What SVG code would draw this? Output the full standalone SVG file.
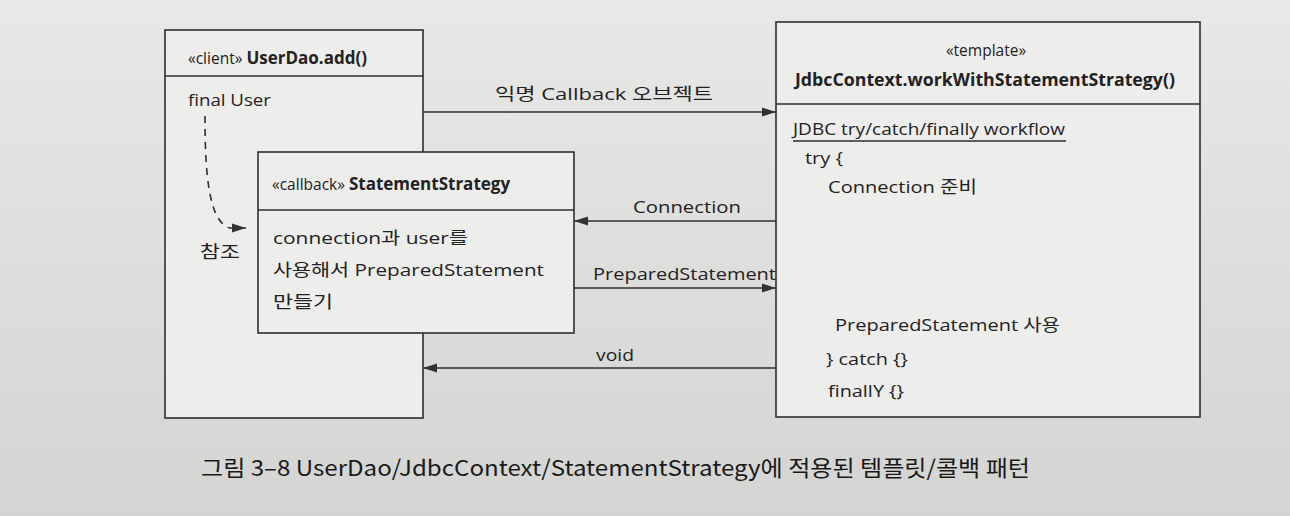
<svg xmlns="http://www.w3.org/2000/svg" width="1290" height="516" viewBox="0 0 1290 516">
<defs>
<linearGradient id="bg" x1="0" y1="0" x2="0" y2="1">
<stop offset="0" stop-color="#e8e8e6"/>
<stop offset="1" stop-color="#d4d4d2"/>
</linearGradient>
<marker id="ah" viewBox="0 0 14 10" refX="14" refY="5" markerWidth="14" markerHeight="10" markerUnits="userSpaceOnUse" orient="auto">
<path d="M0,0.5 L14,5 L0,9.5 Z" fill="#333"/>
</marker>
<style>
.box{fill:#ededeb;stroke:#2e2e2e;stroke-width:1.6}
.ln{stroke:#2e2e2e;stroke-width:1.6;fill:none}
.t{font-family:"Open Sans","Noto Sans","Noto Sans CJK KR",sans-serif;font-size:17px;fill:#222}
.s{font-family:"Open Sans","Noto Sans","Noto Sans CJK KR",sans-serif;font-size:15.5px;fill:#222}
.b{font-weight:bold}
.cap{font-family:"Noto Sans CJK KR","Liberation Sans",sans-serif;font-size:22px;fill:#1a1a1a}
</style>
</defs>
<rect x="0" y="0" width="1290" height="516" fill="url(#bg)"/>

<g id="userdao">
<rect class="box" x="165" y="30" width="258" height="388"/>
<line class="ln" x1="165" y1="76" x2="423" y2="76"/>
<text class="t" x="188" y="64"><tspan class="s">«client» </tspan><tspan class="b">UserDao.add()</tspan></text>
<text class="t" x="188" y="106" textLength="83" lengthAdjust="spacingAndGlyphs">final User</text>
<text class="t" x="200" y="258" textLength="40" lengthAdjust="spacingAndGlyphs">참조</text>
</g>

<g id="template">
<rect class="box" x="776" y="22" width="424" height="395"/>
<line class="ln" x1="776" y1="104" x2="1200" y2="104"/>
<text class="s" x="986" y="56" text-anchor="middle">«template»</text>
<text class="t b" x="795" y="86" textLength="380" lengthAdjust="spacingAndGlyphs">JdbcContext.workWithStatementStrategy()</text>
<text class="t" x="793" y="135" textLength="272" lengthAdjust="spacingAndGlyphs">JDBC try/catch/finally workflow</text>
<line class="ln" x1="793" y1="141" x2="1066" y2="141" stroke-width="1.3"/>
<text class="t" x="805" y="164" textLength="38" lengthAdjust="spacingAndGlyphs">try {</text>
<text class="t" x="828" y="193" textLength="149" lengthAdjust="spacingAndGlyphs">Connection 준비</text>
<text class="t" x="835" y="331" textLength="225" lengthAdjust="spacingAndGlyphs">PreparedStatement 사용</text>
<text class="t" x="826" y="365" textLength="82" lengthAdjust="spacingAndGlyphs">} catch {}</text>
<text class="t" x="828" y="397" textLength="76" lengthAdjust="spacingAndGlyphs">finallY {}</text>
</g>

<g id="callback">
<rect class="box" x="258" y="152" width="316" height="181"/>
<line class="ln" x1="258" y1="210" x2="574" y2="210"/>
<text class="t" x="272" y="190"><tspan class="s">«callback» </tspan><tspan class="b">StatementStrategy</tspan></text>
<text class="t" x="273" y="244" textLength="195" lengthAdjust="spacingAndGlyphs">connection과 user를</text>
<text class="t" x="273" y="276" textLength="271" lengthAdjust="spacingAndGlyphs">사용해서 PreparedStatement</text>
<text class="t" x="273" y="308" textLength="60" lengthAdjust="spacingAndGlyphs">만들기</text>
</g>

<g id="connectors">
<path class="ln" d="M205,116 C205,170 208,222 230,228 L246,228" stroke-dasharray="7,6" marker-end="url(#ah)"/>
<line class="ln" x1="423" y1="112" x2="776" y2="112" marker-end="url(#ah)"/>
<text class="t" x="495" y="100" textLength="218" lengthAdjust="spacingAndGlyphs">익명 Callback 오브젝트</text>
<line class="ln" x1="776" y1="221" x2="574" y2="221" marker-end="url(#ah)"/>
<text class="t" x="633" y="213" textLength="108" lengthAdjust="spacingAndGlyphs">Connection</text>
<line class="ln" x1="574" y1="288" x2="776" y2="288" marker-end="url(#ah)"/>
<text class="t" x="593" y="280" textLength="183" lengthAdjust="spacingAndGlyphs">PreparedStatement</text>
<line class="ln" x1="776" y1="368" x2="423" y2="368" marker-end="url(#ah)"/>
<text class="t" x="596" y="361" textLength="38" lengthAdjust="spacingAndGlyphs">void</text>
</g>

<text class="cap" x="201" y="476" textLength="829" lengthAdjust="spacingAndGlyphs">그림 3–8 UserDao/JdbcContext/StatementStrategy에 적용된 템플릿/콜백 패턴</text>
</svg>
